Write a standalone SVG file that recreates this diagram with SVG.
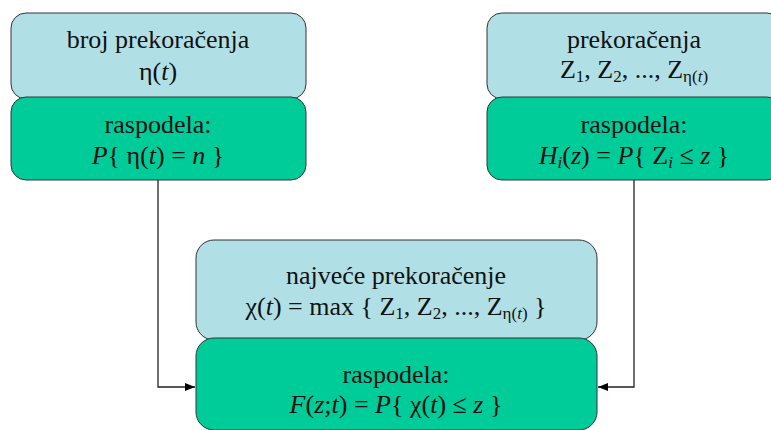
<svg xmlns="http://www.w3.org/2000/svg" width="771" height="430" viewBox="0 0 771 430">
<style>
.lt{fill:#B0E0E6;stroke:#333;stroke-width:1}
.gr{fill:#00CC99;stroke:#333;stroke-width:1}
.t{fill:#111;text-anchor:middle}
.i{font-style:italic}
.s{font-size:17px}
.c{fill:none;stroke:#222;stroke-width:1.3}
</style>
<defs>
<marker id="ah" markerWidth="10" markerHeight="8" refX="10" refY="4" orient="auto" markerUnits="userSpaceOnUse">
<path d="M0,0 L10,4 L0,8 Z" fill="#000"/>
</marker>
</defs>
<g id="connectors">
<path class="c" d="M158,180 V387 H195" marker-end="url(#ah)"/>
<path class="c" d="M634,180 V387 H598" marker-end="url(#ah)"/>
</g>
<g id="node-broj">
<rect class="lt" x="11" y="13" width="295" height="86" rx="15"/>
<text class="t" x="158" y="48" style="font-family:'Liberation Serif',serif;font-size:26px">broj prekoračenja</text>
<text class="t" x="158" y="80" style="font-family:'Liberation Serif',serif;font-size:26px">η(<tspan class="i">t</tspan>)</text>
</g>
<g id="node-raspodela-eta">
<rect class="gr" x="11" y="97" width="295" height="83" rx="15"/>
<text class="t" x="158" y="133" style="font-family:'Liberation Serif',serif;font-size:26px">raspodela:</text>
<text class="t" x="158" y="164" style="font-family:'Liberation Serif',serif;font-size:26px"><tspan class="i">P</tspan>{ η(<tspan class="i">t</tspan>) = <tspan class="i">n</tspan> }</text>
</g>
<g id="node-prekoracenja">
<rect class="lt" x="487" y="13" width="295" height="86" rx="15"/>
<text class="t" x="634" y="48" style="font-family:'Liberation Serif',serif;font-size:26px">prekoračenja</text>
<text class="t" x="634" y="78" style="font-family:'Liberation Serif',serif;font-size:26px">Z<tspan class="s" dy="4">1</tspan><tspan dy="-4">, Z</tspan><tspan class="s" dy="4">2</tspan><tspan dy="-4">, ..., Z</tspan><tspan class="s" dy="4">η(</tspan><tspan class="s i">t</tspan><tspan class="s">)</tspan></text>
</g>
<g id="node-raspodela-h">
<rect class="gr" x="487" y="97" width="295" height="83" rx="15"/>
<text class="t" x="634" y="133" style="font-family:'Liberation Serif',serif;font-size:26px">raspodela:</text>
<text class="t" x="634" y="164" style="font-family:'Liberation Serif',serif;font-size:26px"><tspan class="i">H</tspan><tspan class="s i" dy="4">i</tspan><tspan dy="-4">(</tspan><tspan class="i">z</tspan>) = <tspan class="i">P</tspan>{ Z<tspan class="s i" dy="4">i</tspan><tspan dy="-4"> ≤ </tspan><tspan class="i">z</tspan> }</text>
</g>
<g id="node-najvece">
<rect class="lt" x="196" y="240" width="401" height="100" rx="18"/>
<text class="t" x="396" y="284" style="font-family:'Liberation Serif',serif;font-size:26px">najveće prekoračenje</text>
<text class="t" x="396" y="315" style="font-family:'Liberation Serif',serif;font-size:26px">χ(<tspan class="i">t</tspan>) = max { Z<tspan class="s" dy="4">1</tspan><tspan dy="-4">, Z</tspan><tspan class="s" dy="4">2</tspan><tspan dy="-4">, ..., Z</tspan><tspan class="s" dy="4">η(</tspan><tspan class="s i">t</tspan><tspan class="s">)</tspan><tspan dy="-4"> }</tspan></text>
</g>
<g id="node-raspodela-f">
<rect class="gr" x="196" y="338" width="401" height="92" rx="18"/>
<text class="t" x="396" y="383" style="font-family:'Liberation Serif',serif;font-size:26px">raspodela:</text>
<text class="t" x="396" y="413" style="font-family:'Liberation Serif',serif;font-size:26px"><tspan class="i">F</tspan>(<tspan class="i">z</tspan>;<tspan class="i">t</tspan>) = <tspan class="i">P</tspan>{ χ(<tspan class="i">t</tspan>) ≤ <tspan class="i">z</tspan> }</text>
</g>
</svg>
